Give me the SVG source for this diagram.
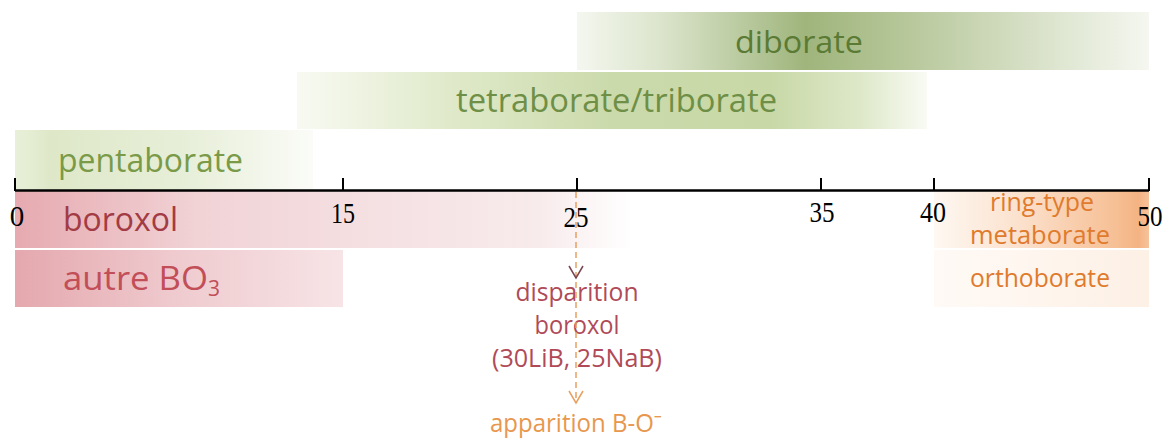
<svg xmlns="http://www.w3.org/2000/svg" width="1165" height="440" viewBox="0 0 1165 440">
<defs>
<linearGradient id="gDi" x1="0" x2="1" y1="0" y2="0">
<stop offset="0" stop-color="#f4f7ef"/><stop offset="0.15" stop-color="#dbe4cb"/><stop offset="0.4" stop-color="#9fb57c"/><stop offset="0.55" stop-color="#b3c495"/><stop offset="0.8" stop-color="#d8e1c8"/><stop offset="1" stop-color="#f5f7f0"/>
</linearGradient>
<linearGradient id="gTe" x1="0" x2="1" y1="0" y2="0">
<stop offset="0" stop-color="#f8faf2"/><stop offset="0.25" stop-color="#dfe9c9"/><stop offset="0.5" stop-color="#cbdaab"/><stop offset="0.75" stop-color="#c8d8a6"/><stop offset="0.9" stop-color="#dfe9cb"/><stop offset="1" stop-color="#f9fbf4"/>
</linearGradient>
<linearGradient id="gPe" x1="0" x2="1" y1="0" y2="0">
<stop offset="0" stop-color="#e9f0da"/><stop offset="0.12" stop-color="#dee8c8"/><stop offset="0.6" stop-color="#e8efda"/><stop offset="1" stop-color="#fbfcf8"/>
</linearGradient>
<linearGradient id="gBo" x1="0" x2="1" y1="0" y2="0">
<stop offset="0" stop-color="#e6aab0"/><stop offset="0.3" stop-color="#f1d3d6"/><stop offset="0.6" stop-color="#f5e1e3"/><stop offset="0.85" stop-color="#f8ebec"/><stop offset="1" stop-color="#ffffff"/>
</linearGradient>
<linearGradient id="gAu" x1="0" x2="1" y1="0" y2="0">
<stop offset="0" stop-color="#e4a8ae"/><stop offset="0.5" stop-color="#efcbcf"/><stop offset="1" stop-color="#f7e4e6"/>
</linearGradient>
<linearGradient id="gRi" x1="0" x2="1" y1="0" y2="0">
<stop offset="0" stop-color="#fef8f2"/><stop offset="0.4" stop-color="#fbe1cd"/><stop offset="0.85" stop-color="#f6bf94"/><stop offset="0.95" stop-color="#f4b382"/><stop offset="1" stop-color="#f6c39c"/>
</linearGradient>
<linearGradient id="gOr" x1="0" x2="1" y1="0" y2="0">
<stop offset="0" stop-color="#fffaf6"/><stop offset="1" stop-color="#fdf0e5"/>
</linearGradient>
<style>
.lb{font-family:"Open Sans","Noto Sans","DejaVu Sans",sans-serif;}
.num{font-family:"Liberation Serif","Times New Roman",serif;font-size:29px;fill:#000;text-anchor:middle;}
.green1{fill:#5b7a34;}
.green2{fill:#6e8f45;}
.green3{fill:#7a9a48;}
.red1{fill:#a33b45;}
.red2{fill:#c24e58;}
.red3{fill:#b04a58;}
.orange{fill:#e07a2c;}
.orange2{fill:#e8974e;}
.tick{stroke:#000;stroke-width:2;}
</style>
</defs>

<g id="diborate">
<rect x="577" y="12" width="572" height="58" fill="url(#gDi)"/>
<text class="lb green1" x="735" y="53" font-size="31" textLength="128" lengthAdjust="spacingAndGlyphs">diborate</text>
</g>
<g id="tetraborate">
<rect x="297" y="72" width="630" height="57" fill="url(#gTe)"/>
<text class="lb green2" x="456" y="112" font-size="32" textLength="321" lengthAdjust="spacingAndGlyphs">tetraborate/triborate</text>
</g>
<g id="pentaborate">
<rect x="15" y="130" width="298" height="60" fill="url(#gPe)"/>
<text class="lb green3" x="58" y="172" font-size="32" textLength="185" lengthAdjust="spacingAndGlyphs">pentaborate</text>
</g>
<g id="boroxol">
<rect x="15" y="191" width="618" height="57" fill="url(#gBo)"/>
<text class="lb red1" x="63" y="231" font-size="32" textLength="115" lengthAdjust="spacingAndGlyphs">boroxol</text>
</g>
<g id="autre">
<rect x="15" y="250" width="328" height="57" fill="url(#gAu)"/>
<text class="lb red2" x="63" y="290" font-size="32"><tspan textLength="145" lengthAdjust="spacingAndGlyphs">autre BO</tspan><tspan font-size="21" dy="6">3</tspan></text>
</g>
<g id="metaborate">
<rect x="934" y="191" width="215" height="57" fill="url(#gRi)"/>
<text class="lb orange" x="1042" y="211" font-size="25" text-anchor="middle" textLength="104" lengthAdjust="spacingAndGlyphs">ring-type</text>
<text class="lb orange" x="1040" y="244" font-size="25" text-anchor="middle" textLength="140" lengthAdjust="spacingAndGlyphs">metaborate</text>
</g>
<g id="orthoborate">
<rect x="934" y="250" width="215" height="57" fill="url(#gOr)"/>
<text class="lb orange" x="1040" y="287" font-size="25" text-anchor="middle" textLength="140" lengthAdjust="spacingAndGlyphs">orthoborate</text>
</g>

<g id="axis">
<line x1="15" y1="190.5" x2="1149" y2="190.5" stroke="#000" stroke-width="2.5"/>
<line class="tick" x1="15" y1="178" x2="15" y2="191"/>
<line class="tick" x1="343" y1="178" x2="343" y2="191"/>
<line class="tick" x1="577" y1="178" x2="577" y2="191"/>
<line class="tick" x1="821" y1="178" x2="821" y2="191"/>
<line class="tick" x1="934" y1="178" x2="934" y2="191"/>
<line class="tick" x1="1149" y1="178" x2="1149" y2="191"/>
<text class="num" x="17" y="226">0</text>
<text class="num" x="343" y="223" textLength="24" lengthAdjust="spacingAndGlyphs">15</text>
<text class="num" x="576" y="227" textLength="25" lengthAdjust="spacingAndGlyphs">25</text>
<text class="num" x="822" y="222" textLength="25" lengthAdjust="spacingAndGlyphs">35</text>
<text class="num" x="933" y="222" textLength="26" lengthAdjust="spacingAndGlyphs">40</text>
<text class="num" x="1150" y="226" textLength="25" lengthAdjust="spacingAndGlyphs">50</text>
</g>

<g id="annotation">
<text class="lb red3" x="577" y="301" font-size="25" text-anchor="middle" textLength="123" lengthAdjust="spacingAndGlyphs">disparition</text>
<text class="lb red3" x="577" y="334" font-size="25" text-anchor="middle" textLength="85" lengthAdjust="spacingAndGlyphs">boroxol</text>
<text class="lb red3" x="577" y="367" font-size="25" text-anchor="middle" textLength="170" lengthAdjust="spacingAndGlyphs">(30LiB, 25NaB)</text>
<text class="lb orange2" x="576" y="432" font-size="25" text-anchor="middle" textLength="172" lengthAdjust="spacingAndGlyphs">apparition B-O⁻</text>
</g>

<g id="connectors">
<line x1="576" y1="192" x2="576" y2="403" stroke="#e8a060" stroke-width="1.5" stroke-dasharray="6 4"/>
<polyline points="569,266 576,278 583,266" fill="none" stroke="#7b4550" stroke-width="1.5"/>
<polyline points="569,391 576,403 583,391" fill="none" stroke="#e8a060" stroke-width="1.5"/>
</g>
</svg>
